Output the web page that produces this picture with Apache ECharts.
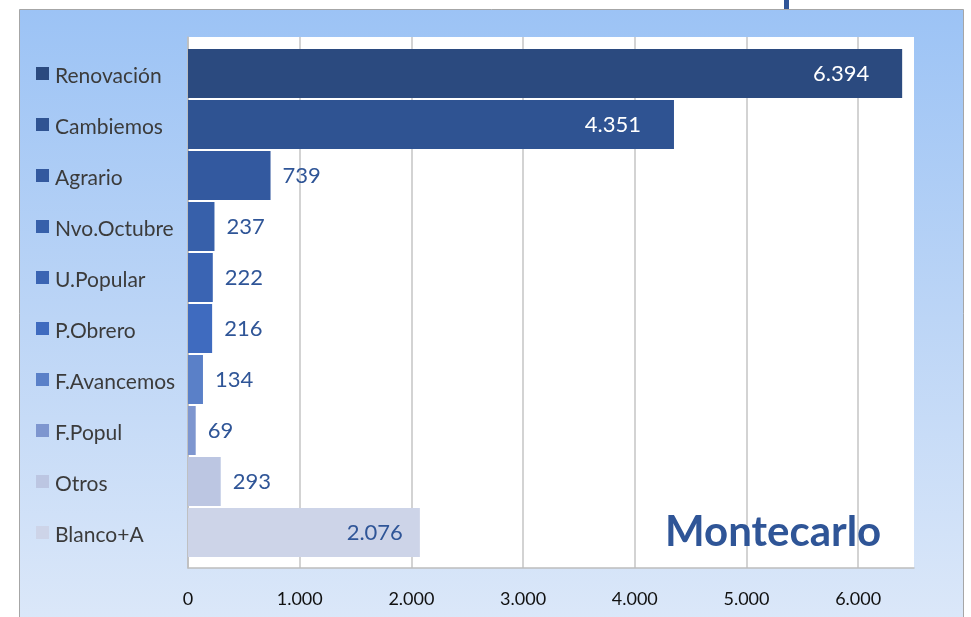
<!DOCTYPE html>
<html lang="es">
<head>
  <meta charset="UTF-8">
  <title>Montecarlo</title>
  <script src="https://cdn.jsdelivr.net/npm/echarts@6/dist/echarts.min.js"></script>
  <style>
    html, body { margin: 0; padding: 0; background: #fff; }
  </style>
</head>
<body>

<div id="chart" style="width: 971px; height: 617px;"></div>

<script>
// datos
var categorias = ['Renovación', 'Cambiemos', 'Agrario', 'Nvo.Octubre', 'U.Popular',
                  'P.Obrero', 'F.Avancemos', 'F.Popul', 'Otros', 'Blanco+A'];
var votos = [6394, 4351, 739, 237, 222, 216, 134, 69, 293, 2076];
var colores = ['#2b4a7f', '#2f5392', '#33599f', '#3760aa', '#3a64b3',
               '#3f6bbf', '#5a80c8', '#7e96cf', '#bcc6e2', '#cdd4e8'];
var ticksX = [0, 1000, 2000, 3000, 4000, 5000, 6000];

document.addEventListener('DOMContentLoaded', function () {
  var chart = echarts.init(document.getElementById('chart'));

  function fmt(v) {
    return String(v).replace(/\B(?=(\d{3})+(?!\d))/g, '.');
  }

  // un cuadradito de color por categoria
  var rich = { t: { fontFamily: 'Lato', fontSize: 21, color: '#3b3b3b', padding: [5, 0, 0, 6] } };
  colores.forEach(function (c, i) {
    rich['sq' + i] = { width: 13, height: 13, backgroundColor: c };
  });

  var gridCol = '#c4c4c4';
  var splitCols = ticksX.map(function () { return gridCol; });
  splitCols.push('rgba(0,0,0,0)');

  var option = {
    backgroundColor: '#fff',
    animation: false,
    graphic: [
      {
        type: 'rect', z: -10,
        shape: { x: 19.5, y: 9.5, width: 944, height: 620 },
        style: {
          fill: new echarts.graphic.LinearGradient(0, 0, 0, 1, [
            { offset: 0, color: '#9cc3f5' },
            { offset: 0.5, color: '#bcd5f6' },
            { offset: 1, color: '#dce8f9' }
          ]),
          stroke: '#a6a6a6', lineWidth: 1
        }
      },
      {
        type: 'rect', z: -5,
        shape: { x: 784, y: 0, width: 5, height: 9 },
        style: { fill: '#2f5597' }
      },
      {
        type: 'text', z: 20,
        left: 665, top: 511,
        style: {
          text: 'Montecarlo',
          font: 'bold 42px Lato',
          fill: '#2f5597'
        }
      }
    ],
    grid: [
      { left: 188, right: 57, top: 37, bottom: 49, show: true, backgroundColor: '#fff', borderWidth: 0 },
      { left: 188, right: 57, top: 48, height: 510 }
    ],
    xAxis: [
      {
        type: 'value', gridIndex: 0, min: 0, max: 6500, interval: 1000,
        axisLine: { show: true, lineStyle: { color: '#bdbdbd', width: 1.5 } },
        axisTick: { show: false },
        splitLine: { show: true, lineStyle: { color: splitCols, width: 1.5 } },
        axisLabel: {
          showMaxLabel: false, margin: 22,
          fontFamily: 'Lato', fontSize: 18, color: '#111',
          formatter: function (v) { return fmt(v); }
        }
      },
      {
        type: 'value', gridIndex: 1, min: 0, max: 6500, show: false
      }
    ],
    yAxis: [
      {
        type: 'value', gridIndex: 0, min: 0, max: 1,
        axisLine: { show: true, lineStyle: { color: '#bdbdbd', width: 1.5 } },
        axisLabel: { show: false }, axisTick: { show: false }, splitLine: { show: false }
      },
      {
        type: 'category', gridIndex: 1, inverse: true, data: categorias,
        axisLine: { show: false }, axisTick: { show: false },
        axisLabel: {
          margin: 152, align: 'left',
          formatter: function (v, i) { return '{sq' + i + '|}{t|' + v + '}'; },
          rich: rich
        }
      }
    ],
    series: [{
      type: 'bar',
      xAxisIndex: 1, yAxisIndex: 1,
      barWidth: 49,
      data: votos.map(function (v, i) {
        var dentro = v > 2000;
        return {
          value: v,
          itemStyle: { color: colores[i] },
          label: {
            position: dentro ? 'insideRight' : 'right',
            distance: dentro ? (v > 4000 ? 33 : 17) : 12,
            color: dentro && v > 4000 ? '#ffffff' : '#2f5597'
          }
        };
      }),
      label: {
        show: true,
        fontFamily: 'Lato', fontSize: 22,
        formatter: function (p) { return fmt(p.value); }
      }
    }]
  };

  chart.setOption(option);
});
</script>

</body>
</html>
